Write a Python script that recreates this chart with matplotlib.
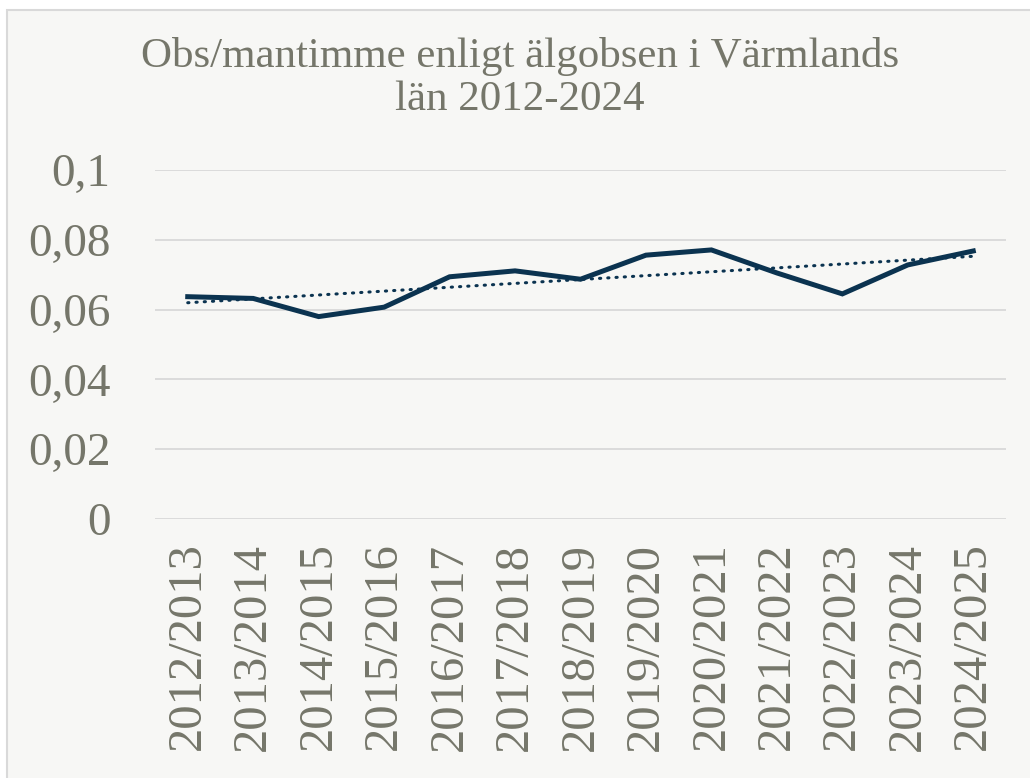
import matplotlib.pyplot as plt
import numpy as np
from matplotlib.patches import Rectangle

seasons = [
    "2012/2013", "2013/2014", "2014/2015", "2015/2016", "2016/2017",
    "2017/2018", "2018/2019", "2019/2020", "2020/2021", "2021/2022",
    "2022/2023", "2023/2024", "2024/2025",
]
obs_per_hour = [
    0.0637, 0.0632, 0.0580, 0.0607, 0.0694, 0.0711, 0.0687,
    0.0756, 0.0771, 0.0705, 0.0645, 0.0728, 0.0768,
]
y_ticks = [0, 0.02, 0.04, 0.06, 0.08, 0.1]
y_labels = ["0", "0,02", "0,04", "0,06", "0,08", "0,1"]

text_color = "#75766a"
line_color = "#0b3350"
grid_color = "#d9d9d9"
bg = "#f7f7f5"

plt.rcParams["font.family"] = ["Liberation Serif", "DejaVu Serif"]

fig = plt.figure(figsize=(10.3, 7.78), dpi=100, facecolor="white")
# chart area background with light border
fig.patches.append(Rectangle((7 / 1030, -0.05), 1.1, 1 - 10 / 778 + 0.05,
                             transform=fig.transFigure, facecolor=bg,
                             edgecolor=grid_color, linewidth=1.5, zorder=-5))

ax = fig.add_axes([155 / 1030, 259 / 778, 851 / 1030, 349 / 778])
ax.set_zorder(2)
ax.set_facecolor(bg)

x = np.arange(len(seasons))
ax.plot(x, obs_per_hour, color=line_color, linewidth=3.6,
        solid_joinstyle="miter", zorder=3)

# linear trendline (like Excel)
k, m = np.polyfit(x, obs_per_hour, 1)
ax.plot(x, k * x + m, color=line_color, linewidth=2.2,
        linestyle=(0, (0.4, 2.3)), dash_capstyle="round", zorder=2)

ax.set_xlim(-0.5, len(seasons) - 0.5)
ax.set_ylim(0, 0.1)
ax.set_yticks(y_ticks)
ax.set_yticklabels(y_labels)
ax.set_xticks(x)
ax.set_xticklabels(seasons, rotation=90)
ax.yaxis.grid(True, color=grid_color, linewidth=1.3)
ax.set_axisbelow(True)
for s in ax.spines.values():
    s.set_visible(False)
ax.tick_params(axis="both", length=0, colors=text_color)
ax.tick_params(axis="y", pad=32, labelsize=34)
ax.tick_params(axis="x", pad=17, labelsize=35)

fig.text(0.505, 0.9, "Obs/mantimme enligt älgobsen i Värmlands\nlän 2012-2024",
         ha="center", va="center", fontsize=31, color=text_color,
         linespacing=1.15, zorder=3)

fig.savefig("out.png", dpi=100, facecolor=fig.get_facecolor())
